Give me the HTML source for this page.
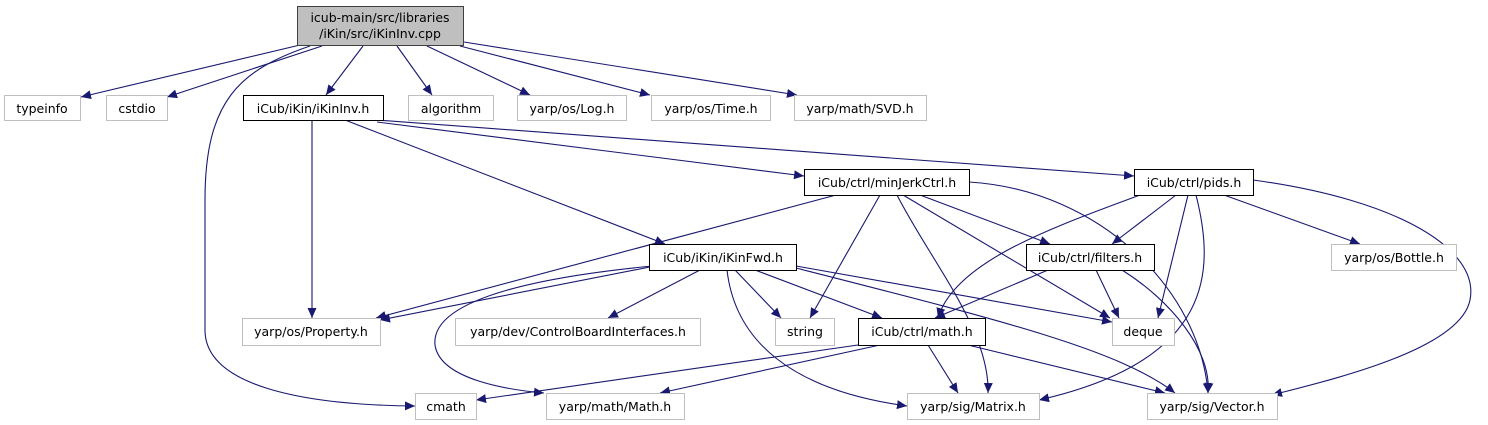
<!DOCTYPE html>
<html><head><meta charset="utf-8"><style>
html,body{margin:0;padding:0;background:#fff;width:1488px;height:425px;overflow:hidden}
svg text{font-family:"DejaVu Sans","Liberation Sans",sans-serif;font-size:12.5px;text-anchor:middle}
</style></head><body>
<svg width="1488" height="425" viewBox="0 0 1488 425" xmlns="http://www.w3.org/2000/svg">
<defs><marker id="a" markerUnits="userSpaceOnUse" markerWidth="11" markerHeight="9" refX="10" refY="4.5" orient="auto"><path d="M0,0 L10,4.5 L0,9 z" fill="#191970"/></marker></defs>
<g fill="none" stroke="#191970" stroke-width="1.1" marker-end="url(#a)">
<path d="M300,45 L81,97"/>
<path d="M322,46 L167,97"/>
<path d="M310,46 C240,70 205,100 205,200 L205,330 C205,385 300,405 415,406"/>
<path d="M363,46 L326,95"/>
<path d="M397,46 L432,95"/>
<path d="M427,46 L530,95"/>
<path d="M460,46 L650,95"/>
<path d="M464,42 L797,95"/>
<path d="M312,120 L312,318"/>
<path d="M345,120 L665,244"/>
<path d="M377,122 L804,176"/>
<path d="M377,120 L1134,176"/>
<path d="M836,195 L376,318"/>
<path d="M880,195 L810,318"/>
<path d="M897,195 C930,260 990,330 988,393"/>
<path d="M903,195 L1110,318"/>
<path d="M920,195 L1050,244"/>
<path d="M969,182 C1100,190 1200,290 1208,393"/>
<path d="M1140,195 C1060,225 955,260 938,318"/>
<path d="M1176,195 L1112,244"/>
<path d="M1188,195 L1158,318"/>
<path d="M1196,195 C1215,270 1215,360 1039,400"/>
<path d="M1224,195 L1360,244"/>
<path d="M1253,180 C1400,200 1480,250 1470,300 C1460,350 1330,380 1272,395"/>
<path d="M660,265 L380,320"/>
<path d="M652,266 C560,275 430,295 435,345 C440,380 510,390 544,393"/>
<path d="M700,270 L608,318"/>
<path d="M735,270 L781,318"/>
<path d="M727,270 C735,340 790,390 907,406"/>
<path d="M755,270 L882,318"/>
<path d="M796,266 L1112,322"/>
<path d="M796,268 C1000,320 1120,350 1175,393"/>
<path d="M1048,270 L935,318"/>
<path d="M1096,270 L1119,318"/>
<path d="M1122,270 C1170,300 1212,350 1208,393"/>
<path d="M858,345 L476,400"/>
<path d="M880,345 L660,393"/>
<path d="M928,345 L958,393"/>
<path d="M968,345 L1165,393"/>
</g>
<g stroke-width="1">
<rect x="297.5" y="6.5" width="166" height="39" fill="#bfbfbf" stroke="#404040"/>
<g fill="#fff" stroke="#bfbfbf">
<rect x="4.5" y="95.5" width="76" height="25"/>
<rect x="106.5" y="95.5" width="61" height="25"/>
<rect x="408.5" y="95.5" width="85" height="25"/>
<rect x="517.5" y="95.5" width="109" height="25"/>
<rect x="651.5" y="95.5" width="119" height="25"/>
<rect x="794.5" y="95.5" width="132" height="25"/>
<rect x="1331.5" y="244.5" width="125" height="26"/>
<rect x="242.5" y="318.5" width="138" height="27"/>
<rect x="455.5" y="318.5" width="245" height="27"/>
<rect x="775.5" y="318.5" width="59" height="27"/>
<rect x="1112.5" y="318.5" width="62" height="27"/>
<rect x="415.5" y="393.5" width="61" height="26"/>
<rect x="546.5" y="393.5" width="138" height="26"/>
<rect x="907.5" y="393.5" width="132" height="26"/>
<rect x="1147.5" y="393.5" width="130" height="26"/>
</g>
<g fill="#fff" stroke="#000">
<rect x="243.5" y="95.5" width="140" height="25"/>
<rect x="804.5" y="169.5" width="165" height="26"/>
<rect x="1134.5" y="169.5" width="119" height="26"/>
<rect x="649.5" y="244.5" width="147" height="26"/>
<rect x="1026.5" y="244.5" width="128" height="26"/>
<rect x="858.5" y="318.5" width="127" height="27"/>
</g>
</g>
<g fill="#000">
<text x="380" y="22">icub-main/src/libraries</text>
<text x="380" y="38">/iKin/src/iKinInv.cpp</text>
<text x="42" y="113">typeinfo</text>
<text x="137" y="113">cstdio</text>
<text x="313" y="113">iCub/iKin/iKinInv.h</text>
<text x="451" y="113">algorithm</text>
<text x="572" y="113">yarp/os/Log.h</text>
<text x="711" y="113">yarp/os/Time.h</text>
<text x="860" y="113">yarp/math/SVD.h</text>
<text x="887" y="187">iCub/ctrl/minJerkCtrl.h</text>
<text x="1194" y="187">iCub/ctrl/pids.h</text>
<text x="723" y="262">iCub/iKin/iKinFwd.h</text>
<text x="1090" y="262">iCub/ctrl/filters.h</text>
<text x="1394" y="262">yarp/os/Bottle.h</text>
<text x="311" y="336">yarp/os/Property.h</text>
<text x="578" y="336">yarp/dev/ControlBoardInterfaces.h</text>
<text x="805" y="336">string</text>
<text x="922" y="336">iCub/ctrl/math.h</text>
<text x="1143" y="336">deque</text>
<text x="446" y="411">cmath</text>
<text x="615" y="411">yarp/math/Math.h</text>
<text x="973" y="411">yarp/sig/Matrix.h</text>
<text x="1212" y="411">yarp/sig/Vector.h</text>
</g>
</svg>
</body></html>
